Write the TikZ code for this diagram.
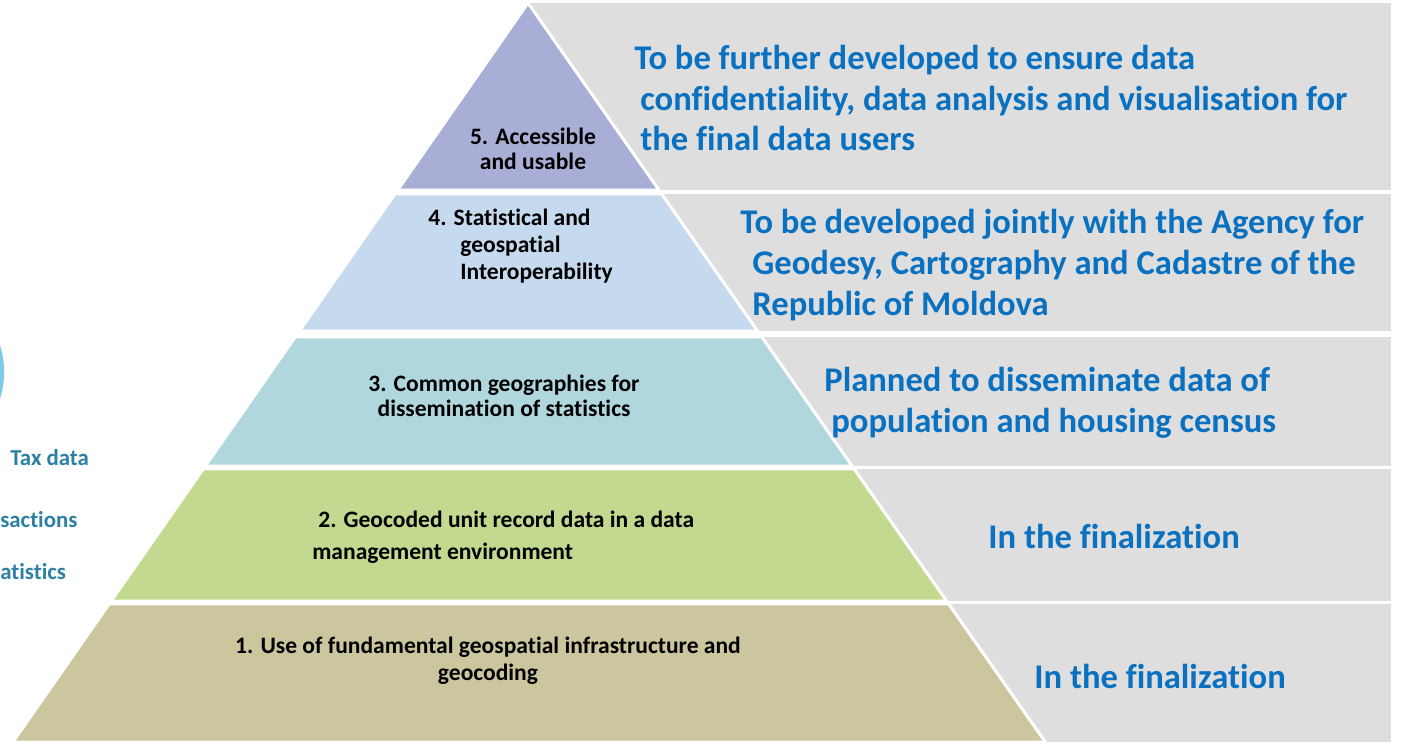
\documentclass[tikz,border=0pt]{standalone}
\usepackage{fontspec}
\setmainfont{Carlito}[Ligatures=NoCommon]
\definecolor{lvlfive}{HTML}{A8AED6}
\definecolor{lvlfour}{HTML}{C6DAEF}
\definecolor{lvlthree}{HTML}{B0D7DD}
\definecolor{lvltwo}{HTML}{C3D98F}
\definecolor{lvlone}{HTML}{CCC69E}
\definecolor{bargray}{HTML}{DEDEDE}
\definecolor{goalblue}{HTML}{0A70C0}
\definecolor{sideteal}{HTML}{2B80A4}
\definecolor{arcblue}{HTML}{7FCBEA}
\tikzset{
  level/.style={draw=white, line width=1.7pt},
  bar/.style={fill=bargray},
  pyrtext/.style={font=\bfseries\fontsize{13.4}{14.2}\selectfont, inner sep=0pt},
  goaltext/.style={font=\bfseries\fontsize{19.7}{23.3}\selectfont, text=goalblue,
    align=left, anchor=west, inner sep=0pt},
  sidetext/.style={font=\bfseries\fontsize{13}{14}\selectfont, text=sideteal,
    anchor=west, inner sep=0pt}
}

\begin{document}
\begin{tikzpicture}[x=0.02cm, y=-0.02cm]
\useasboundingbox (0,0) rectangle (1401,744);

% Gray bars
\fill[bar] (528,3) rectangle (1391,190);
\fill[bar] (528,194) rectangle (1391,331);
\fill[bar] (528,337) rectangle (1391,466);
\fill[bar] (528,469) rectangle (1391,601);
\fill[bar] (528,604) rectangle (1391,742);

% Pyramid levels
\filldraw[level, fill=lvlfive] (528,3) -- (658.9,190) -- (397.7,190) -- cycle;
\filldraw[level, fill=lvlfour] (394.9,194) -- (661.7,194) -- (757.6,331) -- (299.4,331) -- cycle;
\filldraw[level, fill=lvlthree] (295.2,337) -- (761.8,337) -- (852.1,466) -- (205.3,466) -- cycle;
\filldraw[level, fill=lvltwo] (203.2,469) -- (854.2,469) -- (946.6,601) -- (111.2,601) -- cycle;
\filldraw[level, fill=lvlone] (109.1,604) -- (948.7,604) -- (1045.3,742) -- (12.9,742) -- cycle;

% Level labels
\node[pyrtext, align=center] (lvlfive) at (533,149) {5. Accessible\\and usable};
\node[pyrtext, align=left, anchor=west, font=\bfseries\fontsize{13.4}{15.4}\selectfont] (lvlfour) at (428,246)
  {4. Statistical and\\\hspace{0.64cm}geospatial\\\hspace{0.64cm}Interoperability};
\node[pyrtext, align=center] (lvlthree) at (504,396)
  {3. Common geographies for\\dissemination of statistics};
\node[pyrtext, align=left, anchor=west, font=\bfseries\fontsize{13.4}{18.2}\selectfont] (lvltwo) at (312,537)
  {\hspace{0.12cm}2. Geocoded unit record data in a data\\management environment};
\node[pyrtext, align=center, font=\bfseries\fontsize{13.4}{15.4}\selectfont] (lvlone) at (488,661)
  {1. Use of fundamental geospatial infrastructure and\\geocoding};

% Status texts
\node[goaltext] (goalfive) at (634,98)
  {To be further developed to ensure data\\\hspace{0.12cm}confidentiality, data analysis and visualisation for\\\hspace{0.12cm}the final data users};
\node[goaltext] (goalfour) at (740,265)
  {To be developed jointly with the Agency for\\\hspace{0.24cm}Geodesy, Cartography and Cadastre of the\\\hspace{0.24cm}Republic of Moldova};
\node[goaltext] (goalthree) at (824,403)
  {Planned to disseminate data of\\\hspace{0.14cm}population and housing census};
\node[goaltext] (goaltwo) at (988,536) {In the finalization};
\node[goaltext] (goalone) at (1034,676) {In the finalization};

% Cut-off side figure
\begin{scope}
\clip (0,0) rectangle (1401,744);
\draw[arcblue, line width=2.5pt] (-84,372) circle (86);
\end{scope}
\node[sidetext] (taxdata) at (10,458) {Tax data};
\node[sidetext] (transact) at (0,520) {sactions};
\node[sidetext] (statist) at (0,572) {atistics};
\end{tikzpicture}
\end{document}
